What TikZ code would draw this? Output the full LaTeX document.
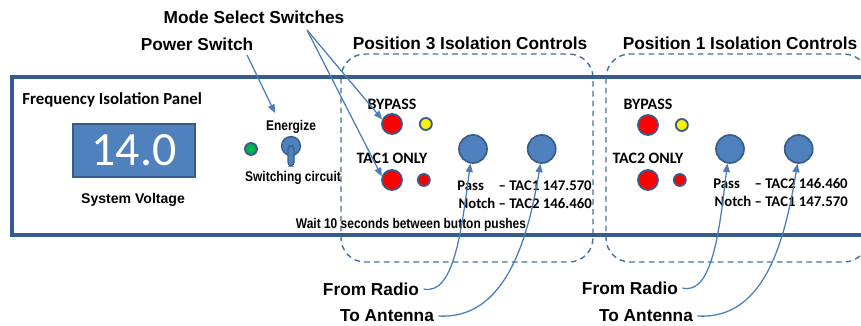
\documentclass[tikz,border=0pt]{standalone}
\usepackage{fontspec}
\setmainfont{Liberation Sans}
\newfontfamily\calfont[Ligatures=TeX]{Carlito}
\newfontfamily\narrowfont[FakeStretch=0.85]{Liberation Sans}
\usepackage{tikz}
\usetikzlibrary{positioning,calc,arrows.meta}

\definecolor{panelblue}{RGB}{52,92,140}
\definecolor{zoneblue}{RGB}{65,113,156}
\definecolor{btnblue}{RGB}{79,129,189}
\definecolor{btnrim}{RGB}{56,93,138}
\definecolor{arrowblue}{RGB}{74,126,187}
\definecolor{ledgreen}{RGB}{0,176,80}

\tikzset{
    title/.style={font=\fontsize{12.3}{14}\selectfont\bfseries, inner sep=0pt},
    paneltext/.style={font=\calfont\fontsize{12}{14}\selectfont\bfseries, inner sep=0pt},
    freqtext/.style={font=\calfont\fontsize{10.5}{12}\selectfont\bfseries, inner sep=0pt},
    narrowtext/.style={font=\narrowfont\fontsize{10}{12}\selectfont\bfseries, inner sep=0pt},
    led/.style={circle, draw=btnrim, line width=1.3pt, inner sep=0pt},
    bigred/.style={led, fill=red, minimum size=0.5cm},
    smallled/.style={led, minimum size=0.3cm},
    pushbutton/.style={circle, draw=btnrim, fill=btnblue, line width=1.2pt, minimum size=0.7cm, inner sep=0pt},
    pointer/.style={draw=arrowblue, line width=0.9pt, -{Triangle[length=6pt,width=5pt]}},
    zone/.style={draw=zoneblue, line width=1pt, dash pattern=on 4pt off 3pt, rounded corners=0.6cm}
}

\begin{document}
\begin{tikzpicture}[x=0.025cm, y=-0.025cm]
    \clip (0,0) rectangle (861,326);

    % isolation zones and panel
    \draw [zone] (341,54) rectangle (593,262);
    \draw [zone] (606,54) rectangle (868,262);
    \draw [panelblue, line width=2.4pt] (12,77) rectangle (880,235);

    % titles
    \node [title] (mode) at (254,17) {Mode Select Switches};
    \node [title] (power) at (197,44) {Power Switch};
    \node [title] (pos3) at (470,43) {Position 3 Isolation Controls};
    \node [title] (pos1) at (740,43) {Position 1 Isolation Controls};

    % voltage display
    \node [paneltext, anchor=west] (panel) at (22,100) {Frequency Isolation Panel};
    \node [draw=panelblue, fill=btnblue, line width=1pt, minimum width=3.05cm, minimum height=1.325cm,
           text=white, font=\calfont\fontsize{34}{36}\selectfont] (display) at (134,150.5) {14.0};
    \node [font=\fontsize{10}{12}\selectfont\bfseries, inner sep=0pt] (sysvolt) at (133,200) {System Voltage};

    % power switch
    \node [led, fill=ledgreen, minimum size=0.3cm] (pwrled) at (251,149) {};
    \node [circle, draw=btnrim, fill=btnblue, line width=1pt, minimum size=0.47cm, inner sep=0pt] (toggle) at (291,146) {};
    \draw [draw=btnrim, fill=btnblue, line width=0.8pt, rounded corners=2.5] (288,146) rectangle (294,166);
    \node [narrowtext] (energize) at (291,127) {Energize};
    \node [narrowtext] (switching) at (293,178) {Switching circuit};

    % position 3
    \node [paneltext, font=\calfont\fontsize{11.3}{13}\selectfont\bfseries] (bypass3) at (392,104) {BYPASS};
    \node [bigred] (byp3) at (392,124) {};
    \node [smallled, fill=yellow, right=0.4cm of byp3] (bypy3) {};
    \node [paneltext, font=\calfont\fontsize{11.3}{13}\selectfont\bfseries] (only3) at (392,158) {TAC1 ONLY};
    \node [bigred] (tac3) at (392,180) {};
    \node [smallled, fill=red, right=0.35cm of tac3] (tacs3) {};
    \node [pushbutton] (btnA3) at (473,149) {};
    \node [pushbutton, right=0.975cm of btnA3] (btnB3) {};
    \node [freqtext, anchor=west] (pass3) at (457,186) {Pass};
    \node [freqtext, anchor=east] (passf3) at (592,186) {– TAC1 147.570};
    \node [freqtext, anchor=east] (notch3) at (592,203) {Notch – TAC2 146.460};
    \node [narrowtext] (wait) at (411,225) {Wait 10 seconds between button pushes};

    % position 1
    \node [paneltext, font=\calfont\fontsize{11.3}{13}\selectfont\bfseries] (bypass1) at (648,104) {BYPASS};
    \node [bigred] (byp1) at (648,125) {};
    \node [smallled, fill=yellow, right=0.4cm of byp1] (bypy1) {};
    \node [paneltext, font=\calfont\fontsize{11.3}{13}\selectfont\bfseries] (only1) at (648,158) {TAC2 ONLY};
    \node [bigred] (tac1) at (648,180) {};
    \node [smallled, fill=red, right=0.35cm of tac1] (tacs1) {};
    \node [pushbutton] (btnA1) at (730,149) {};
    \node [pushbutton, right=0.975cm of btnA1] (btnB1) {};
    \node [freqtext, anchor=west] (pass1) at (713,184) {Pass};
    \node [freqtext, anchor=east] (passf1) at (848,184) {– TAC2 146.460};
    \node [freqtext, anchor=east] (notch1) at (848,201) {Notch – TAC1 147.570};

    % cable labels
    \node [title] (radio3) at (371,289) {From Radio};
    \node [title] (ant3) at (387,316) {To Antenna};
    \node [title] (radio1) at (630,288) {From Radio};
    \node [title] (ant1) at (646,316) {To Antenna};

    % pointers
    \coordinate (modetail) at (307,30);
    \coordinate (powertail) at (247,55);
    \coordinate (powertip) at (275,113);
    \draw [pointer] (powertail) -- (powertip);
    \draw [pointer] (modetail) -- (byp3.155);
    \draw [pointer] (modetail) -- (tac3.160);

    % cables
    \draw [pointer] ([xshift=3pt]radio3.east) .. controls (455,296) and (462,225) .. (btnA3.260);
    \draw [pointer] ([xshift=3pt]ant3.east) .. controls (505,320) and (528,240) .. (btnB3.265);
    \draw [pointer] ([xshift=3pt]radio1.east) .. controls (713,296) and (720,225) .. (btnA1.260);
    \draw [pointer] ([xshift=3pt]ant1.east) .. controls (765,320) and (785,240) .. (btnB1.265);
\end{tikzpicture}
\end{document}
